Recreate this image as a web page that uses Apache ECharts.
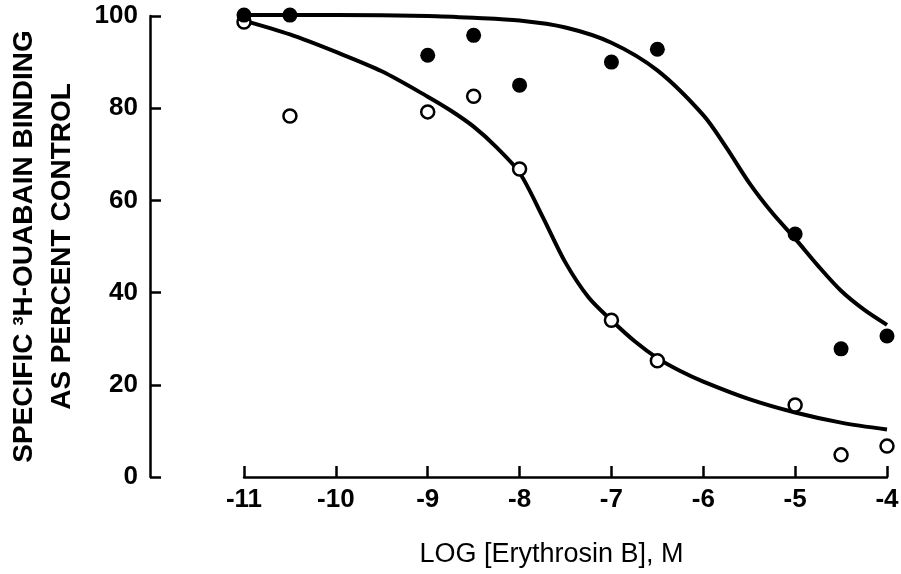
<!DOCTYPE html>
<html>
<head>
<meta charset="utf-8">
<script src="https://cdn.jsdelivr.net/npm/echarts@6/dist/echarts.min.js"></script>
<style>
  html, body { margin: 0; padding: 0; background: #fff; }
  #chart { width: 901px; height: 574px; }
</style>
</head>
<body>
<div id="chart"></div>
<script>
// log molar concentrations where binding was measured
const logDose = [-11, -10.5, -9, -8.5, -8, -7, -6.5, -5, -4.5, -4]
// filled circles
const filledBinding = [100.2, 100.2, 91.5, 95.8, 85, 90, 92.8, 52.7, 27.8, 30.6]
// open circles
const openBinding = [98.7, 78.3, 79.2, 82.6, 66.8, 34, 25.2, 15.6, 4.8, 6.7]

// fitted curves
const filledCurveX = [-11, -10, -9, -8.5, -8, -7.5, -7, -6.5, -6, -5.75, -5.5, -5.25, -5, -4.75, -4.5, -4.25, -4]
const filledCurveY = [100.2, 100.2, 100, 99.6, 99, 97.5, 94.2, 88.2, 78.5, 71.5, 63.8, 57.3, 51.7, 45.8, 40.4, 36.3, 33]
const openCurveX = [-11, -10.5, -10, -9.5, -9, -8.75, -8.5, -8.25, -8, -7.75, -7.5, -7.25, -7, -6.75, -6.5, -6.25, -6, -5.5, -5, -4.5, -4]
const openCurveY = [99, 96, 92.2, 88, 82.5, 79.5, 76, 71.5, 66, 56.5, 46.5, 39, 34, 29.5, 25.8, 23, 20.7, 16.9, 14, 11.8, 10.3]

const xTicks = [-11, -10, -9, -8, -7, -6, -5, -4]
const yTicks = [0, 20, 40, 60, 80, 100]

const font = '"Liberation Sans", Arial, sans-serif'

const zip = (xs, ys) => xs.map((x, i) => [x, ys[i]])

const chart = echarts.init(document.getElementById('chart'))

const axisLine = { show: true, lineStyle: { color: '#000', width: 2.5 } }
const axisTick = { show: true, inside: true, length: 11, lineStyle: { color: '#000', width: 2.5 } }

chart.setOption({
  backgroundColor: '#fff',
  animation: false,
  grid: { left: 244, right: 14, top: 16, bottom: 97, outerBoundsMode: 'none', containLabel: false },
  xAxis: {
    type: 'value',
    min: xTicks[0],
    max: xTicks[xTicks.length - 1],
    interval: 1,
    name: 'LOG [Erythrosin B], M',
    nameLocation: 'middle',
    nameGap: 64,
    nameTextStyle: { color: '#000', fontFamily: font, fontSize: 27, padding: [0, 28, 0, 0] },
    axisLine,
    axisTick,
    splitLine: { show: false },
    axisLabel: {
      color: '#000',
      fontFamily: font,
      fontWeight: 'bold',
      fontSize: 26,
      margin: 10
    }
  },
  yAxis: {
    type: 'value',
    min: yTicks[0],
    max: yTicks[yTicks.length - 1],
    interval: 20,
    offset: 94,
    name: 'SPECIFIC ³H-OUABAIN BINDING\nAS PERCENT CONTROL',
    nameLocation: 'middle',
    nameGap: 69,
    nameTextStyle: { color: '#000', fontFamily: font, fontWeight: 'bold', fontSize: 28, lineHeight: 38 },
    axisLine,
    axisTick,
    splitLine: { show: false },
    axisLabel: {
      color: '#000',
      fontFamily: font,
      fontWeight: 'bold',
      fontSize: 26,
      margin: 12
    }
  },
  series: [
    {
      name: 'filled fit',
      type: 'line',
      data: zip(filledCurveX, filledCurveY),
      smooth: 0.3,
      showSymbol: false,
      clip: false,
      lineStyle: { color: '#000', width: 4 },
      z: 2
    },
    {
      name: 'open fit',
      type: 'line',
      data: zip(openCurveX, openCurveY),
      smooth: 0.3,
      showSymbol: false,
      clip: false,
      lineStyle: { color: '#000', width: 4 },
      z: 2
    },
    {
      name: 'open',
      type: 'scatter',
      data: zip(logDose, openBinding),
      symbol: 'circle',
      symbolSize: 13,
      clip: false,
      itemStyle: { color: '#fff', borderColor: '#000', borderWidth: 2.5, opacity: 1 },
      z: 3
    },
    {
      name: 'filled',
      type: 'scatter',
      data: zip(logDose, filledBinding),
      symbol: 'circle',
      symbolSize: 15,
      clip: false,
      itemStyle: { color: '#000', opacity: 1 },
      z: 4
    }
  ]
})
</script>
</body>
</html>
